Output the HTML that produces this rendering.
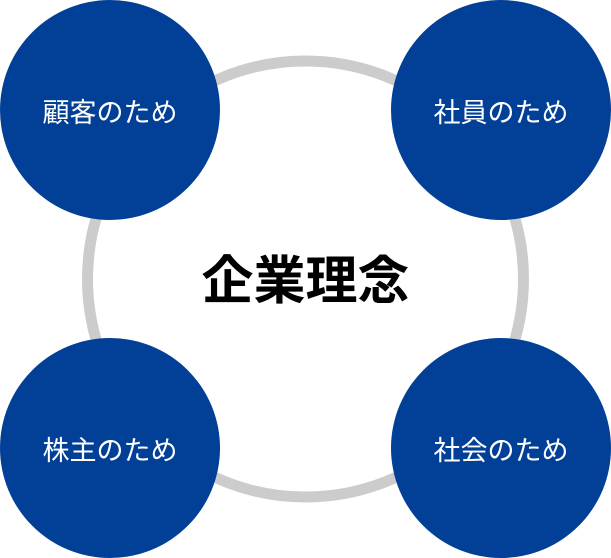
<!DOCTYPE html>
<html><head><meta charset="utf-8"><style>
html,body{margin:0;padding:0;background:#fff;}
body{width:611px;height:558px;position:relative;overflow:hidden;font-family:"Liberation Sans","Noto Sans CJK JP",sans-serif;}
.c{position:absolute;width:220px;height:220px;border-radius:50%;background:#024097;color:#fff;font-size:27px;display:flex;align-items:center;justify-content:center;letter-spacing:0px;}
.t{position:absolute;left:0;width:611px;top:250px;text-align:center;font-size:52px;font-weight:bold;color:#000;line-height:64px;}
</style></head><body>
<svg width="611" height="558" style="position:absolute;left:0;top:0"><circle cx="305.5" cy="279" r="218" fill="none" stroke="#cccccc" stroke-width="11"/></svg>
<div class="c" style="left:0;top:0">顧客のため</div>
<div class="c" style="left:391px;top:0">社員のため</div>
<div class="c" style="left:0;top:338px">株主のため</div>
<div class="c" style="left:391px;top:338px">社会のため</div>
<div class="t">企業理念</div>
</body></html>
